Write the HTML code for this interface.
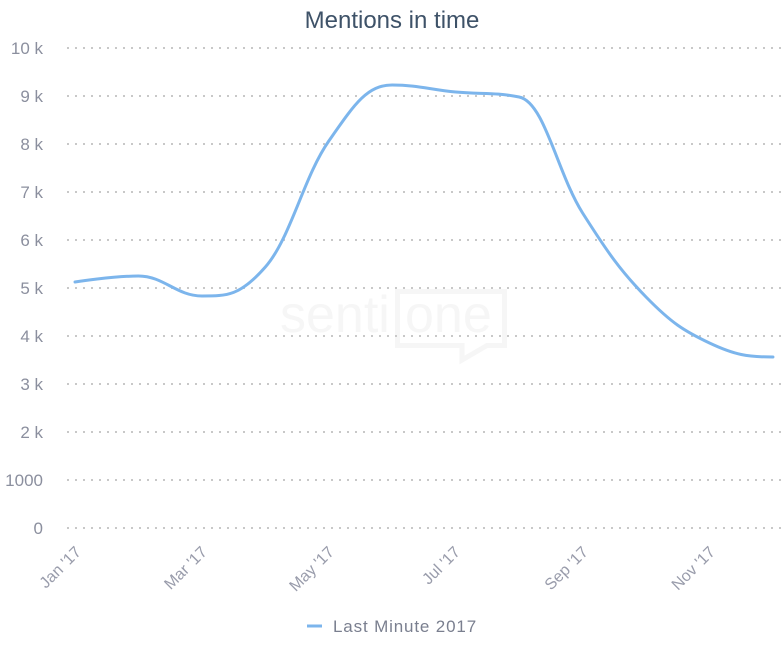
<!DOCTYPE html>
<html>
<head>
<meta charset="utf-8">
<style>
  html,body{margin:0;padding:0;background:#fff;}
  svg{display:block;}
  text{font-family:"Liberation Sans",sans-serif;}
</style>
</head>
<body>
<svg width="784" height="652" viewBox="0 0 784 652" xmlns="http://www.w3.org/2000/svg">
  <rect width="784" height="652" fill="#ffffff"/>

  <!-- watermark -->
  <text x="280" y="332" font-size="52" fill="#f6f6f6">senti</text>
  <text x="405" y="332" font-size="52" fill="#f6f6f6">one</text>
  <path d="M397.5 291.5 H504.5 V345.5 H487 L462 360 V345.5 H397.5 Z" fill="none" stroke="#f6f6f6" stroke-width="5" stroke-linejoin="miter"/>

  <!-- title -->
  <text x="392" y="28" font-size="24" fill="#3e5268" text-anchor="middle">Mentions in time</text>

  <!-- gridlines -->
  <g stroke="#c8c8c8" stroke-width="2" stroke-dasharray="2,6" fill="none">
    <line x1="67" y1="48" x2="784" y2="48"/>
    <line x1="67" y1="96" x2="784" y2="96"/>
    <line x1="67" y1="144" x2="784" y2="144"/>
    <line x1="67" y1="192" x2="784" y2="192"/>
    <line x1="67" y1="240" x2="784" y2="240"/>
    <line x1="67" y1="288" x2="784" y2="288"/>
    <line x1="67" y1="336" x2="784" y2="336"/>
    <line x1="67" y1="384" x2="784" y2="384"/>
    <line x1="67" y1="432" x2="784" y2="432"/>
    <line x1="67" y1="480" x2="784" y2="480"/>
    <line x1="67" y1="528" x2="784" y2="528"/>
  </g>

  <!-- y labels -->
  <g font-size="17" fill="#8b8f9e" text-anchor="end">
    <text x="43" y="54">10 k</text>
    <text x="43" y="102">9 k</text>
    <text x="43" y="150">8 k</text>
    <text x="43" y="198">7 k</text>
    <text x="43" y="246">6 k</text>
    <text x="43" y="294">5 k</text>
    <text x="43" y="342">4 k</text>
    <text x="43" y="390">3 k</text>
    <text x="43" y="438">2 k</text>
    <text x="43" y="486">1000</text>
    <text x="43" y="534">0</text>
  </g>

  <!-- x labels -->
  <g font-size="16" fill="#999cab" text-anchor="end">
    <text x="82" y="553" transform="rotate(-45 82 553)">Jan '17</text>
    <text x="208" y="553" transform="rotate(-45 208 553)">Mar '17</text>
    <text x="335" y="553" transform="rotate(-45 335 553)">May '17</text>
    <text x="461" y="553" transform="rotate(-45 461 553)">Jul '17</text>
    <text x="589" y="553" transform="rotate(-45 589 553)">Sep '17</text>
    <text x="716" y="553" transform="rotate(-45 716 553)">Nov '17</text>
  </g>

  <!-- series -->
  <path d="M 75 282
           C 75 282, 113.07 276, 138.45 276
           C 163.83 276, 176.52 296, 201.9 296
           C 227.28 296, 239.97 296, 265.35 267
           C 290.73 238, 303.42 177.4, 328.8 141
           C 354.18 104.6, 366.87 85, 392.25 85
           C 417.63 85, 430.32 89.6, 455.7 92
           C 481.08 94.4, 493.77 92, 519.15 97
           C 544.53 102, 557.22 173, 582.6 213
           C 607.98 253, 620.67 271, 646.05 297
           C 671.43 323, 684.12 331, 709.5 343
           C 734.88 355, 747.57 357, 772.95 357"
        fill="none" stroke="#7cb5ec" stroke-width="3" stroke-linecap="round" stroke-linejoin="round"/>

  <!-- legend -->
  <line x1="307" y1="626" x2="322" y2="626" stroke="#7cb5ec" stroke-width="3"/>
  <text x="333" y="632" font-size="17" fill="#7a7f8f" letter-spacing="0.85">Last Minute 2017</text>
</svg>
</body>
</html>
